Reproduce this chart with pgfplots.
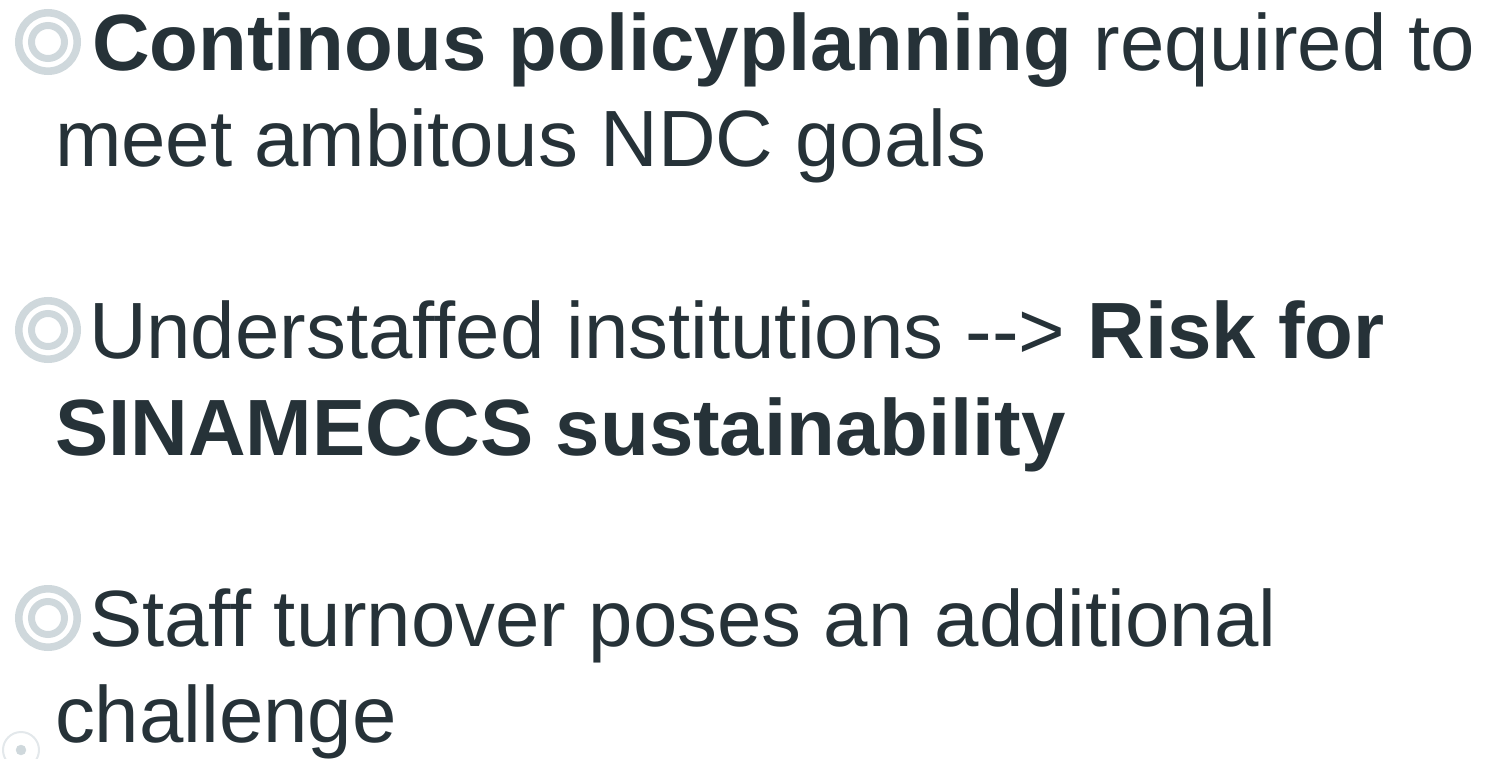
\documentclass[border=0pt]{standalone}
\usepackage{fontspec}
\setmainfont{Liberation Sans}
\usepackage{pgfplots}
\pgfplotsset{compat=1.18}
\definecolor{txt}{HTML}{263238}
\definecolor{bul}{HTML}{CFD8DC}
\definecolor{bul2}{HTML}{E3E8EB}
\begin{document}
\begin{tikzpicture}[x=1pt,y=1pt]
\begin{axis}[at={(0,0)},anchor=south west, scale only axis,
  width=1487pt, height=759pt, xmin=0, xmax=1487, ymin=0, ymax=759,
  y dir=reverse, hide axis, clip=false]
\coordinate (bl) at (axis cs:0,759);
\coordinate (tr) at (axis cs:1487,0);
% bullets
\addplot[only marks, mark=o, mark size=29.2pt, mark options={draw=bul, line width=7.6pt}]
  coordinates {(48,42) (48,330) (48,618)};
\addplot[only marks, mark=o, mark size=16.5pt, mark options={draw=bul, line width=7pt}]
  coordinates {(48,42) (48,330) (48,618)};
\addplot[only marks, mark=o, mark size=18pt, mark options={draw=bul2, line width=2pt}]
  coordinates {(21,750)};
\addplot[only marks, mark=*, mark size=5pt, mark options={draw=bul, fill=bul}]
  coordinates {(21,750)};
% text
\begin{scope}[every node/.style={anchor=base west, inner sep=0pt, outer sep=0pt, text=txt, font=\fontsize{79.8}{96}\selectfont}]
\node at (axis cs:92,71) {\textbf{Continous policyplanning} required to};
\node at (axis cs:55,167) {meet ambitous NDC goals};
\node at (axis cs:89,358) {Understaffed institutions -{}-{}> \textbf{Risk for}};
\node at (axis cs:55,455) {\textbf{SINAMECCS sustainability}};
\node at (axis cs:89,646) {Staff turnover poses an additional};
\node at (axis cs:55,742) {challenge};
\end{scope}
\end{axis}
\pgfresetboundingbox
\useasboundingbox (bl) rectangle (tr);
\end{tikzpicture}
\end{document}
